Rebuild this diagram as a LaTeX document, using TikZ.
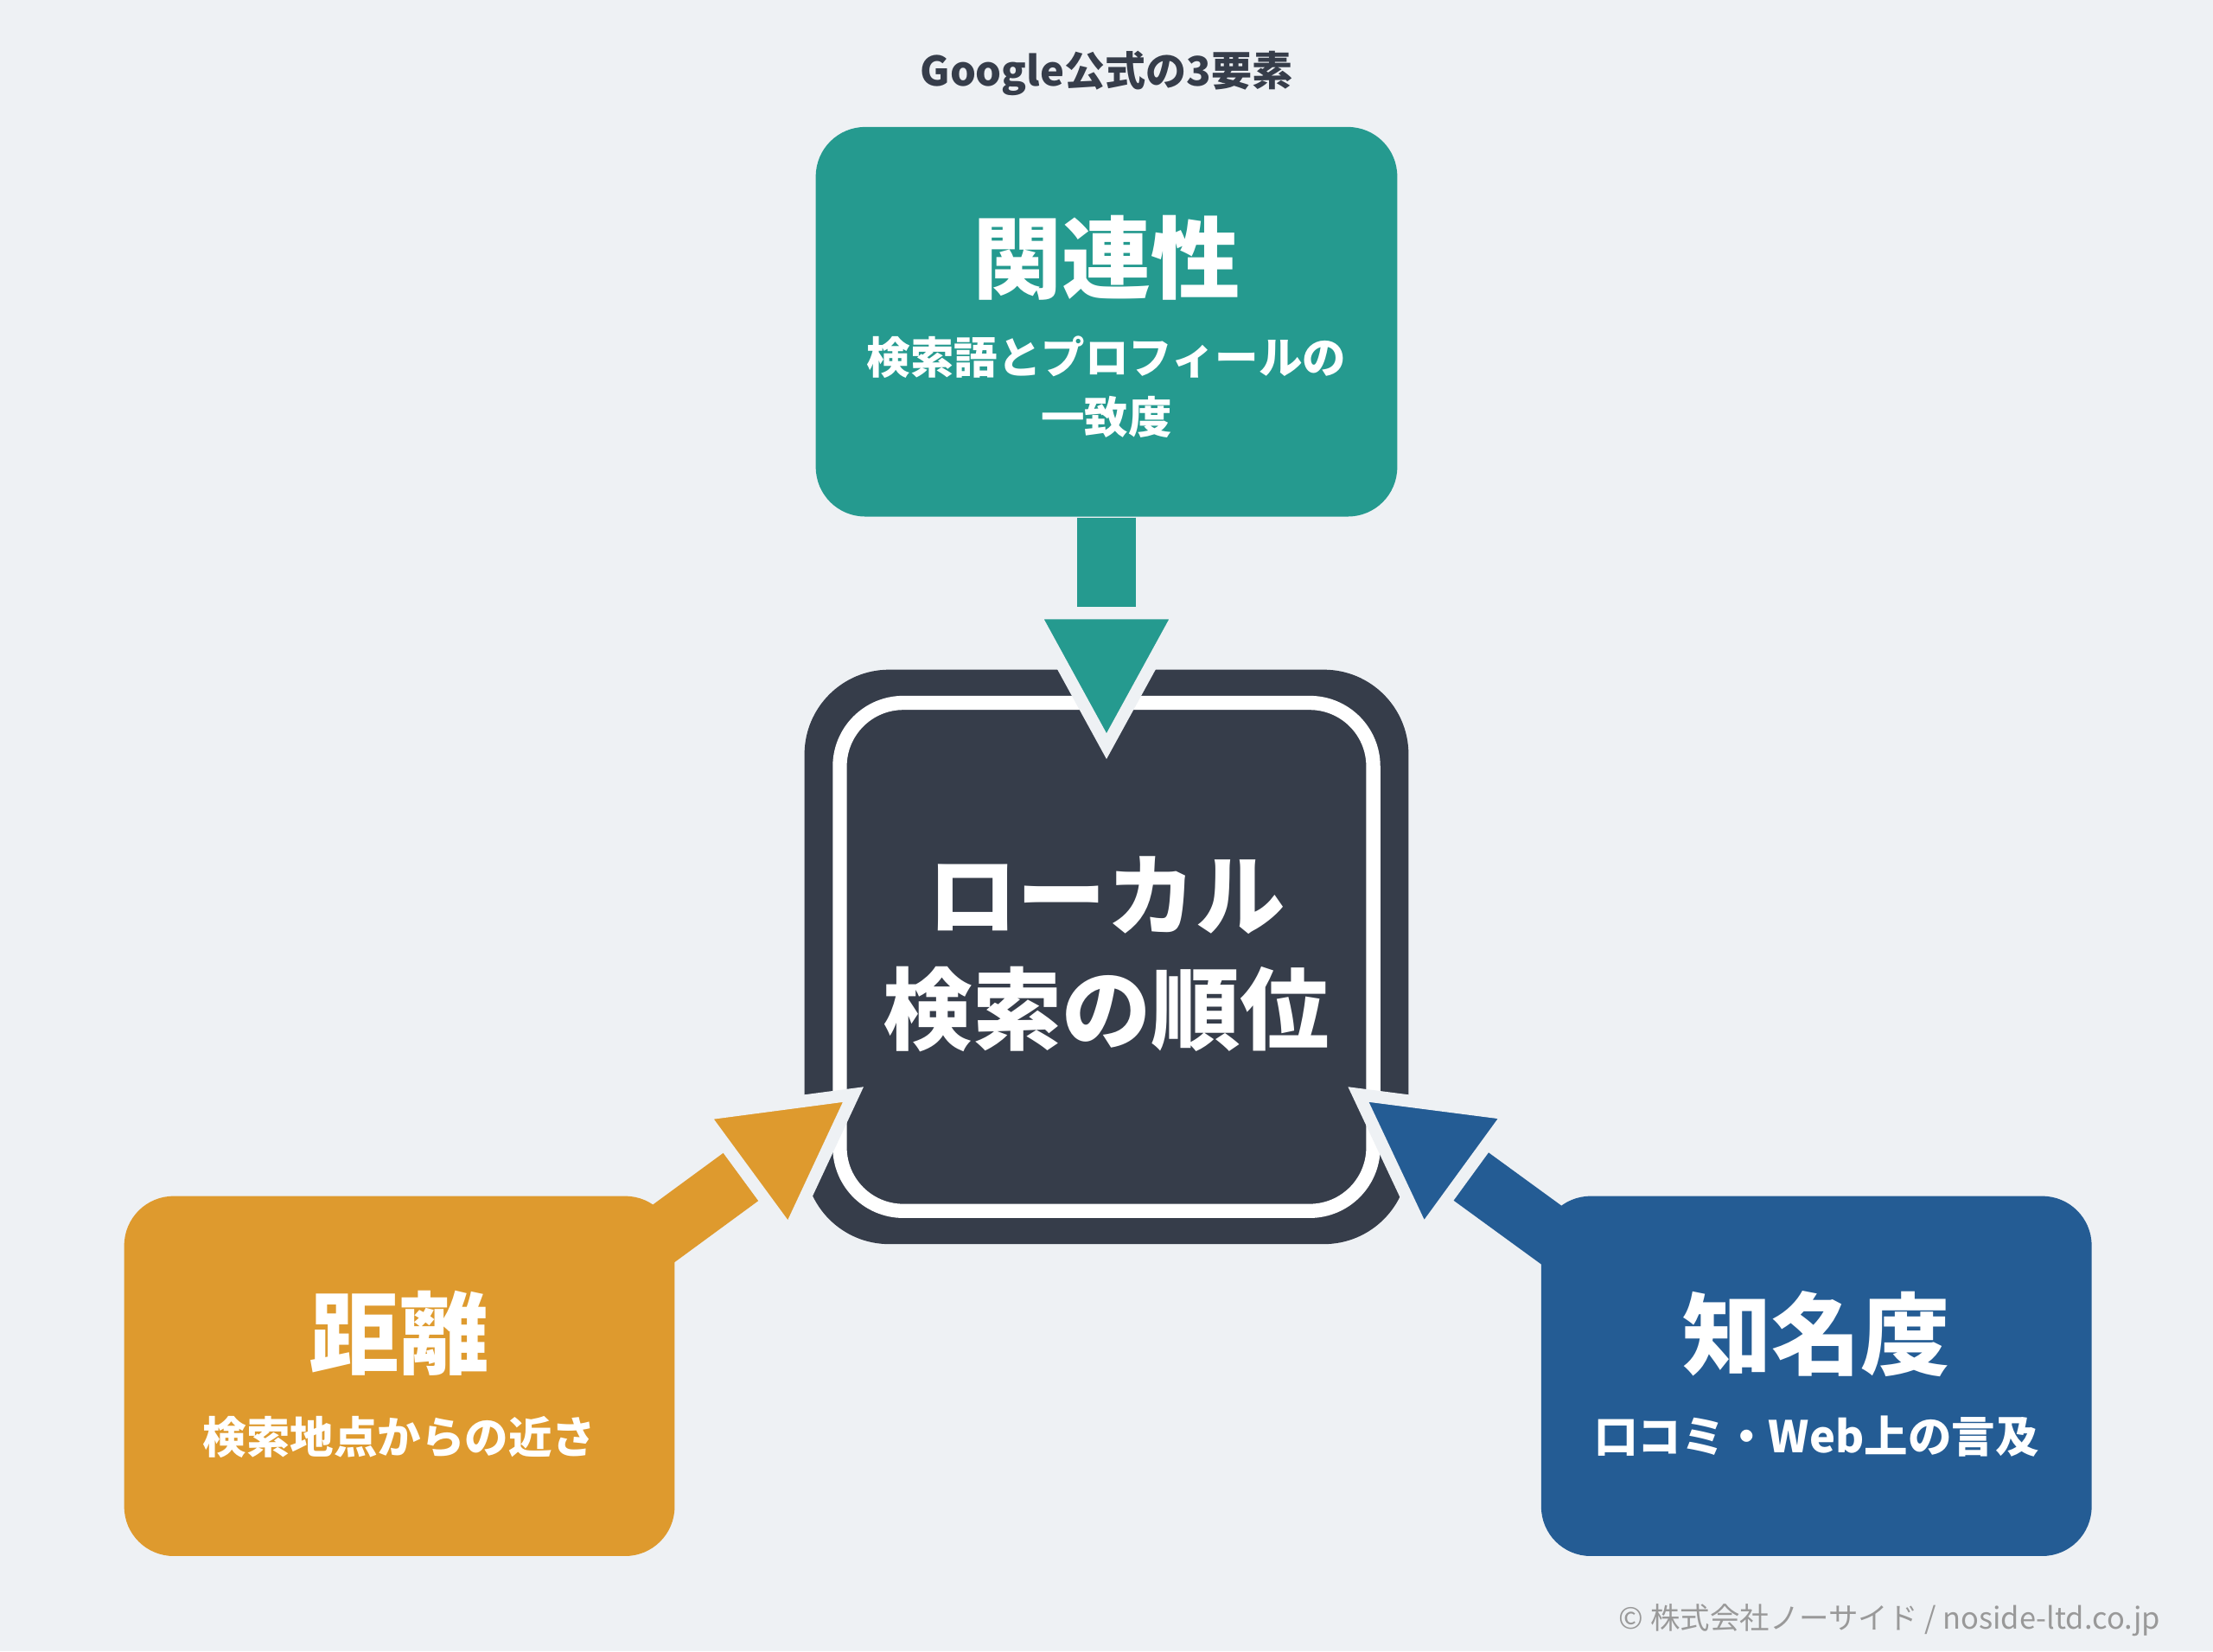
\documentclass[tikz,border=0pt]{standalone}
\usepackage{fontspec}
\setmainfont{Noto Sans CJK JP}
\usetikzlibrary{arrows.meta,backgrounds,positioning}
\definecolor{bgc}{HTML}{EEF1F4}
\definecolor{tealc}{HTML}{259A8F}
\definecolor{orangec}{HTML}{DE9A2E}
\definecolor{bluec}{HTML}{245C94}
\definecolor{darkc}{HTML}{363D4A}
\tikzset{
  factor/.style={rounded corners=0.35cm, minimum width=4.0cm, minimum height=2.55cm, text=white, align=center, inner sep=0pt},
  bigtxt/.style={font=\bfseries\fontsize{18}{20}\selectfont},
  smalltxt/.style={font=\bfseries\fontsize{8.8}{12}\selectfont},
  push/.style={line width=0.42cm, -{Triangle[width=1.16cm,length=1.08cm,color=bgc,fill=#1,line width=2.5pt]}, draw=#1},
}
\begin{document}
\begin{tikzpicture}
\useasboundingbox (0,0) rectangle (15.68,11.70);
% title
\node[text=darkc, font=\bfseries\fontsize{8.2}{10}\selectfont] (title) at (7.84,11.18) {Google公式の3要素};
% three factors
\node[factor, fill=tealc, minimum width=4.12cm, minimum height=2.76cm] (rel) at (7.84,9.42) {};
\node[bigtxt, text=white] at (7.84,9.87) {関連性};
\node[smalltxt, text=white, align=center] at (7.84,8.96) {検索語とプロフィールの\\一致度};
\node[factor, fill=orangec, minimum width=3.9cm] (dist) at (2.83,1.95) {};
\node[bigtxt, text=white] at (2.83,2.25) {距離};
\node[smalltxt, text=white] at (2.83,1.52) {検索地点からの近さ};
\node[factor, fill=bluec, minimum width=3.9cm] (fame) at (12.87,1.95) {};
\node[bigtxt, text=white] at (12.87,2.25) {知名度};
\node[smalltxt, text=white] at (12.87,1.52) {口コミ・Web上の言及};
% centre
\coordinate (tipT) at (7.84,6.32);
\coordinate (tipL) at (6.12,4.00);
\coordinate (tipR) at (9.55,4.00);
\begin{scope}[on background layer]
  \fill[bgc] (0,0) rectangle (15.68,11.70);
  \node[fill=darkc, rounded corners=0.6cm, minimum width=4.28cm, minimum height=4.07cm] (rankout) at (7.84,4.92) {};
  \node[fill=darkc, draw=white, line width=0.1cm, rounded corners=0.45cm, minimum width=3.78cm, minimum height=3.6cm] (rank) at (7.84,4.92) {};
  \draw[push=tealc] (rel.south) -- (tipT);
  \draw[push=orangec] (4.62,2.90) -- (tipL);
  \draw[push=bluec] (11.06,2.90) -- (tipR);
\end{scope}
\node[bigtxt, text=white, align=center, font=\bfseries\fontsize{18}{23}\selectfont] at (7.84,4.94) {ローカル\\検索の順位};
% footer
\node[anchor=east, text=gray!80, font=\fontsize{6}{7}\selectfont] (credit) at (15.43,0.22) {© 株式会社ノーサイド / noside-ltd.co.jp};
\end{tikzpicture}
\end{document}
